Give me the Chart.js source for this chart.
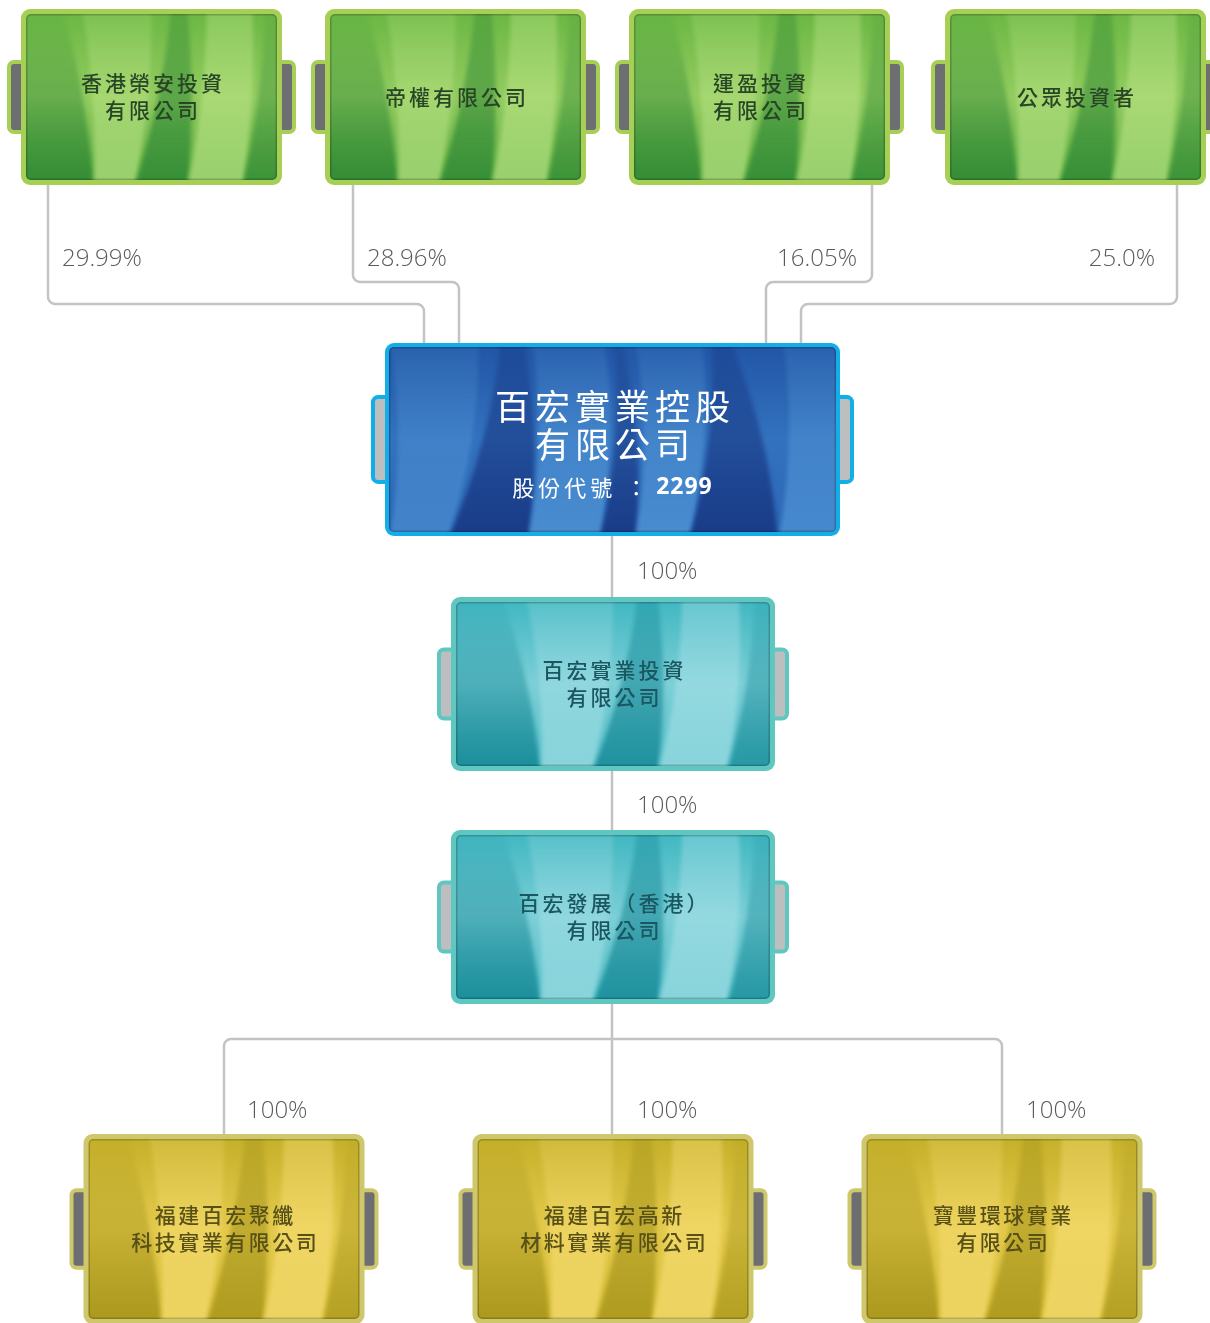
<!DOCTYPE html>
<html>
<head>
<meta charset="utf-8">
<script src="https://cdn.jsdelivr.net/npm/chart.js@4.4.1/dist/chart.umd.min.js"></script>
<style>
    html, body { margin: 0; padding: 0; background: #fff; }
    #wrap { width: 1210px; height: 1323px; position: relative; }
</style>
</head>
<body>
<div id="wrap"><canvas id="chart"></canvas></div>
<script>
// chart content
const owners = ["香港榮安投資\n有限公司", "帝權有限公司", "運盈投資\n有限公司", "公眾投資者"];
const ownerShares = ["29.99%", "28.96%", "16.05%", "25.0%"];
const holdingName = ["百宏實業控股", "有限公司"];
const stockLabel = "股份代號 ：";
const stockCode = "2299";
const chainNames = ["百宏實業投資\n有限公司", "百宏發展（香港）\n有限公司"];
const chainShares = ["100%", "100%"];
const subsidiaries = ["福建百宏聚纖\n科技實業有限公司", "福建百宏高新\n材料實業有限公司", "寶豐環球實業\n有限公司"];
const subShares = ["100%", "100%", "100%"];

// layout, in chart units
const layout = {
    owners: { cx: [151.5, 455.5, 759.5, 1075.5], cy: 97, w: 261, h: 176 },
    holding: { cx: 612.5, cy: 439.5, w: 455, h: 193 },
    chain: { cx: 613, cy: [684, 917], w: 324, h: 174 },
    subs: { cx: [224, 613, 1002], cy: 1229, w: 281, h: 190 },
    ownerLinks: { x: [48, 353, 872, 1177], elbow: [304, 282, 282, 304], entry: [424, 459, 766, 801] },
    ownerLabels: { x: [62, 367, 857, 1155], align: ["left", "left", "right", "right"], y: 259 },
    chainLabels: { x: 637, y: [572, 806] },
    subLinks: { trunkX: 612, bar: 1039 },
    subLabels: { x: [247, 637, 1026], y: 1111 }
};

const spool = [
    ["d", -0.05, 0.14, -0.05, 0.27, 0.05, 0.75],
    ["l", 0.22, 0.50, 0.27, 0.43, 0.2, 0.6],
    ["d", 0.58, 0.64, 0.43, 0.64, 0.3, 0.7],
    ["l", 0.72, 0.90, 0.64, 0.86, 0.35, 0.6],
    ["d", 0.95, 1.05, 0.86, 1.05, 0.1, 0.6]
];
const spoolBlue = [
    ["l", 0.00, 0.20, 0.00, 0.13, 0.15, 0.45],
    ["d", 0.25, 0.30, 0.13, 0.31, 0.3, 0.8],
    ["l", 0.32, 0.48, 0.31, 0.47, 0.15, 0.6],
    ["d", 0.50, 0.52, 0.47, 0.55, 0.2, 0.8],
    ["l", 0.55, 0.70, 0.55, 0.67, 0.15, 0.6],
    ["d", 0.72, 0.76, 0.67, 0.87, 0.3, 0.8],
    ["l", 0.88, 1.02, 0.87, 1.02, 0.15, 0.55]
];

const themes = {
    green: { border: "#a7cf55", tab: "#6d6e71", top: "#6cb844", mid: "#93cc60", bottom: "#5cae42",
             dark: "40,130,50", light: "195,232,140", text: "#284626", bands: spool },
    blue: { border: "#12aee8", tab: "#bcbec0", top: "#2256a6", mid: "#3372be", bottom: "#2b67b6",
            dark: "22,50,125", light: "95,165,225", text: "#ffffff", bands: spoolBlue },
    teal: { border: "#5fc7c0", tab: "#bcbec0", top: "#42b8c2", mid: "#7ccfd7", bottom: "#52bdc6",
            dark: "10,128,142", light: "175,228,235", text: "#1b5760", bands: spool },
    yellow: { border: "#cec76c", tab: "#6d6e71", top: "#c6b12a", mid: "#e4ca4c", bottom: "#d6bd38",
              dark: "158,142,22", light: "252,226,125", text: "#575017", bands: spool }
};

function drawTexture(ctx, x, y, w, h, t) {
    ctx.save();
    ctx.beginPath();
    ctx.roundRect(x, y, w, h, 5);
    ctx.clip();
    const g = ctx.createLinearGradient(0, y, 0, y + h);
    g.addColorStop(0, t.top);
    g.addColorStop(0.5, t.mid);
    g.addColorStop(1, t.bottom);
    ctx.fillStyle = g;
    ctx.fillRect(x, y, w, h);
    ctx.filter = "blur(2px)";
    t.bands.forEach(function(b) {
        const c = b[0] === "d" ? t.dark : t.light;
        const bg = ctx.createLinearGradient(0, y, 0, y + h);
        bg.addColorStop(0, `rgba(${c},${b[5]})`);
        bg.addColorStop(1, `rgba(${c},${b[6]})`);
        ctx.fillStyle = bg;
        const tl = x + b[1] * w, tr = x + b[2] * w, bl = x + b[3] * w, br = x + b[4] * w;
        ctx.beginPath();
        ctx.moveTo(tl, y - 10);
        ctx.quadraticCurveTo((tl + bl) / 2 + 0.04 * w, y + h * 0.5, bl, y + h + 10);
        ctx.lineTo(br, y + h + 10);
        ctx.quadraticCurveTo((tr + br) / 2 + 0.04 * w, y + h * 0.5, tr, y - 10);
        ctx.closePath();
        ctx.fill();
    });
    ctx.filter = "none";
    // inner shade
    ctx.strokeStyle = "rgba(0,0,0,0.2)";
    ctx.lineWidth = 3;
    ctx.beginPath();
    ctx.roundRect(x, y, w, h, 5);
    ctx.stroke();
    ctx.restore();
}

function drawBox(ctx, cx, cy, w, h, t, tabRatio, bw) {
    const x = cx - w / 2, y = cy - h / 2;
    const th = h * tabRatio;
    // side tabs
    [-1, 1].forEach(function(s) {
        const ex = s < 0 ? x - 14 : x + w - 16;
        ctx.fillStyle = t.border;
        ctx.beginPath();
        ctx.roundRect(ex, cy - th / 2, 30, th, 7);
        ctx.fill();
        ctx.fillStyle = t.tab;
        ctx.beginPath();
        ctx.roundRect(s < 0 ? ex + 4 : ex + 6, cy - th / 2 + 4, 20, th - 8, 3);
        ctx.fill();
    });
    ctx.fillStyle = t.border;
    ctx.beginPath();
    ctx.roundRect(x, y, w, h, 9);
    ctx.fill();
    drawTexture(ctx, x + bw, y + bw, w - 2 * bw, h - 2 * bw, t);
}

function drawLabel(ctx, text, cx, cy, color, size, spacing, lineH, weight) {
    const lines = text.split("\n");
    ctx.save();
    ctx.fillStyle = color;
    ctx.font = `${weight || 400} ${size}px "Noto Sans CJK TC", "Noto Sans", sans-serif`;
    ctx.letterSpacing = spacing + "px";
    ctx.textAlign = "center";
    ctx.textBaseline = "middle";
    const top = cy - (lines.length - 1) * lineH / 2;
    lines.forEach(function(l, i) {
        ctx.fillText(l, cx + spacing / 2, top + i * lineH);
    });
    ctx.restore();
}

function elbow(ctx, pts, r) {
    ctx.beginPath();
    ctx.moveTo(pts[0][0], pts[0][1]);
    for (let i = 1; i < pts.length - 1; i++) {
        ctx.arcTo(pts[i][0], pts[i][1], pts[i + 1][0], pts[i + 1][1], r);
    }
    ctx.lineTo(pts[pts.length - 1][0], pts[pts.length - 1][1]);
    ctx.stroke();
}

function pct(ctx, text, x, y, align) {
    ctx.save();
    ctx.fillStyle = "#595a5c";
    ctx.font = '300 24px "Open Sans", sans-serif';
    ctx.textAlign = align;
    ctx.textBaseline = "middle";
    ctx.fillText(text, x, y);
    ctx.restore();
}

const orgPlugin = {
    id: "org",
    afterDatasetsDraw(chart) {
        const ctx = chart.ctx;
        const X = v => chart.scales.x.getPixelForValue(v);
        const Y = v => chart.scales.y.getPixelForValue(v);
        const pts = chart.getDatasetMeta(0).data;
        const L = layout;

        // connectors
        ctx.save();
        ctx.strokeStyle = "#c2c3c6";
        ctx.lineWidth = 2.5;
        const ownTop = L.holding.cy - L.holding.h / 2;
        owners.forEach(function(o, i) {
            elbow(ctx, [
                [X(L.ownerLinks.x[i]), Y(L.owners.cy + L.owners.h / 2)],
                [X(L.ownerLinks.x[i]), Y(L.ownerLinks.elbow[i])],
                [X(L.ownerLinks.entry[i]), Y(L.ownerLinks.elbow[i])],
                [X(L.ownerLinks.entry[i]), Y(ownTop + 3)]
            ], 7);
        });
        ctx.beginPath();
        ctx.moveTo(X(L.subLinks.trunkX), Y(L.holding.cy));
        ctx.lineTo(X(L.subLinks.trunkX), Y(L.subs.cy));
        ctx.stroke();
        subsidiaries.forEach(function(s, i) {
            if (Math.abs(L.subs.cx[i] - L.subLinks.trunkX) < 3) return;
            elbow(ctx, [
                [X(L.subLinks.trunkX), Y(L.subLinks.bar)],
                [X(L.subs.cx[i]), Y(L.subLinks.bar)],
                [X(L.subs.cx[i]), Y(L.subs.cy)]
            ], 7);
        });
        ctx.restore();

        // boxes
        let k = 0;
        owners.forEach(function(name) {
            const p = pts[k++];
            const w = X(L.owners.w) - X(0), h = Y(L.owners.h) - Y(0);
            drawBox(ctx, p.x, p.y, w, h, themes.green, 0.42, 5);
            drawLabel(ctx, name, p.x, p.y, themes.green.text, 21, 3, 27, 500);
        });
        {
            const p = pts[k++];
            const w = X(L.holding.w) - X(0), h = Y(L.holding.h) - Y(0);
            drawBox(ctx, p.x, p.y, w, h, themes.blue, 0.46, 4);
            drawLabel(ctx, holdingName.join("\n"), p.x, p.y - 14, "#ffffff", 35, 5, 38, 400);
            // stock code line
            ctx.save();
            ctx.fillStyle = "#ffffff";
            ctx.textBaseline = "middle";
            ctx.textAlign = "left";
            ctx.font = '22px "Noto Sans CJK TC", sans-serif';
            ctx.letterSpacing = "4px";
            const w1 = ctx.measureText(stockLabel + " ").width;
            ctx.letterSpacing = "1px";
            ctx.font = 'bold 23px "Open Sans", sans-serif';
            const w2 = ctx.measureText(stockCode).width;
            const sx = p.x - (w1 + w2) / 2;
            ctx.fillText(stockCode, sx + w1 - 2, p.y + 48);
            ctx.font = '22px "Noto Sans CJK TC", sans-serif';
            ctx.letterSpacing = "4px";
            ctx.fillText(stockLabel, sx + 2, p.y + 48);
            ctx.restore();
        }
        chainNames.forEach(function(name) {
            const p = pts[k++];
            const w = X(L.chain.w) - X(0), h = Y(L.chain.h) - Y(0);
            drawBox(ctx, p.x, p.y, w, h, themes.teal, 0.42, 5);
            drawLabel(ctx, name, p.x, p.y, themes.teal.text, 21, 3, 27, 500);
        });
        subsidiaries.forEach(function(name) {
            const p = pts[k++];
            const w = X(L.subs.w) - X(0), h = Y(L.subs.h) - Y(0);
            drawBox(ctx, p.x, p.y, w, h, themes.yellow, 0.43, 5);
            drawLabel(ctx, name, p.x, p.y, themes.yellow.text, 21, 2.5, 27, 500);
        });

        // share labels
        ownerShares.forEach(function(s, i) {
            pct(ctx, s, X(L.ownerLabels.x[i]), Y(L.ownerLabels.y), L.ownerLabels.align[i]);
        });
        chainShares.forEach(function(s, i) {
            pct(ctx, s, X(L.chainLabels.x), Y(L.chainLabels.y[i]), "left");
        });
        subShares.forEach(function(s, i) {
            pct(ctx, s, X(L.subLabels.x[i]), Y(L.subLabels.y), "left");
        });
    }
};

// node centres as points on the chart scales
const nodes = []
    .concat(layout.owners.cx.map(x => ({ x: x, y: layout.owners.cy })))
    .concat([{ x: layout.holding.cx, y: layout.holding.cy }])
    .concat(layout.chain.cy.map(y => ({ x: layout.chain.cx, y: y })))
    .concat(layout.subs.cx.map(x => ({ x: x, y: layout.subs.cy })));

new Chart(document.getElementById("chart").getContext("2d"), {
    type: "scatter",
    data: {
        datasets: [{
            data: nodes,
            pointRadius: 0,
            pointHoverRadius: 0
        }]
    },
    options: {
        responsive: true,
        maintainAspectRatio: false,
        animation: false,
        events: [],
        layout: { padding: 0 },
        plugins: { legend: { display: false }, tooltip: { enabled: false } },
        scales: {
            x: { type: "linear", min: 0, max: 1210, display: false },
            y: { type: "linear", min: 0, max: 1323, reverse: true, display: false }
        }
    },
    plugins: [orgPlugin]
});
</script>
</body>
</html>
